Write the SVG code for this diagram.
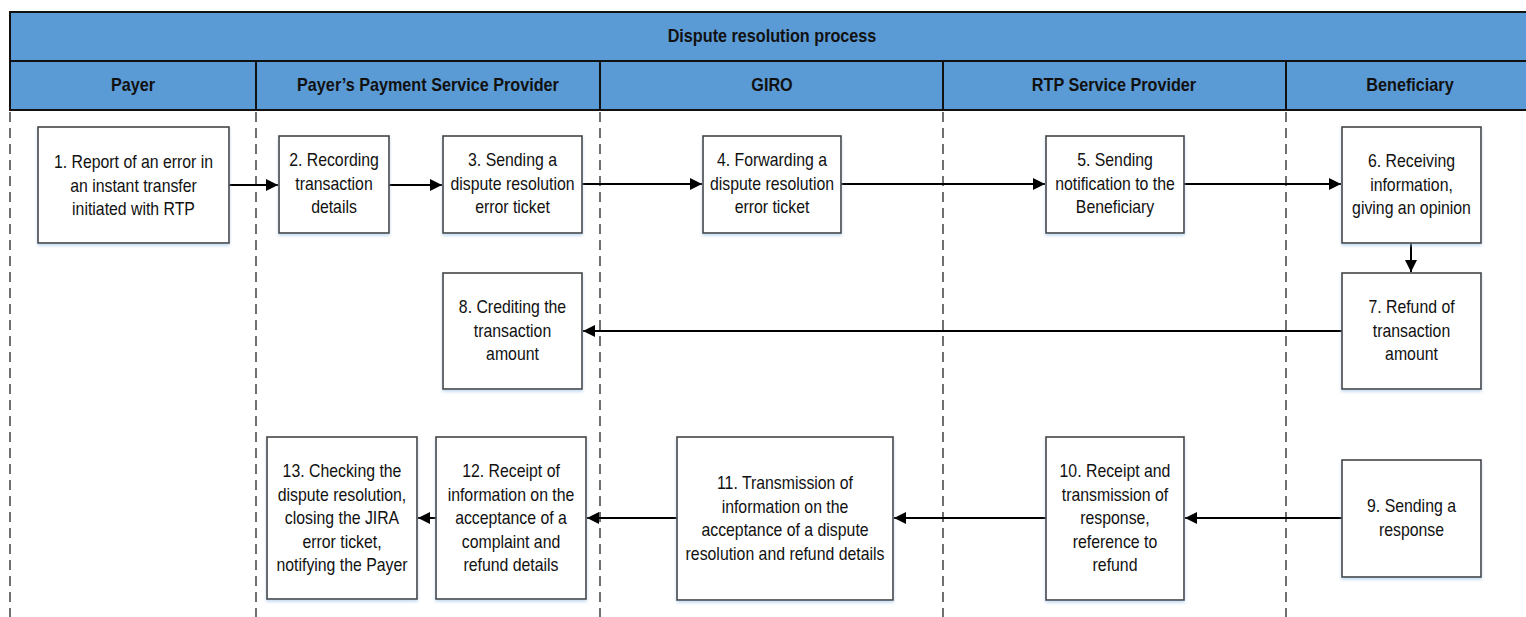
<svg xmlns="http://www.w3.org/2000/svg" width="1526" height="617" viewBox="0 0 1526 617">
<style>
  .hdr { fill: #5b9bd5; stroke: #111; stroke-width: 2; }
  .ht { font-family: "Liberation Sans", Arial, sans-serif; font-size: 18px; font-weight: bold; fill: #111; text-anchor: middle; }
  .lane { stroke: #111; stroke-width: 1.2; stroke-dasharray: 10 6; fill: none; }
  .box { fill: #fff; stroke: #444; stroke-width: 1.6; filter: url(#sh); }
  .bt { font-family: "Liberation Sans", Arial, sans-serif; font-size: 18px; fill: #111; text-anchor: middle; }
  .con { stroke: #000; stroke-width: 2; fill: none; marker-end: url(#ah); }
</style>
<defs>
  <marker id="ah" viewBox="0 0 10 10" refX="10" refY="5" markerWidth="6" markerHeight="6" markerUnits="strokeWidth" orient="auto">
    <path d="M0,0 L10,5 L0,10 z" fill="#000"/>
  </marker>
  <filter id="sh" x="-10%" y="-10%" width="120%" height="125%">
    <feDropShadow dx="0" dy="2" stdDeviation="1.5" flood-color="#9dc3e6" flood-opacity="0.6"/>
  </filter>
</defs>
<rect width="1526" height="617" fill="#fff"/>
<g id="header">
  <rect class="hdr" x="10" y="12" width="1530" height="49"/>
  <text class="ht" transform="translate(772,42) scale(0.9,1)">Dispute resolution process</text>
</g>
<g id="lanes">
  <g id="lane-payer">
    <rect class="hdr" x="10" y="61" width="246" height="49"/>
    <text class="ht" transform="translate(133,91) scale(0.9,1)">Payer</text>
    <line class="lane" x1="10" y1="112" x2="10" y2="617"/>
  </g>
  <g id="lane-psp">
    <rect class="hdr" x="256" y="61" width="344" height="49"/>
    <text class="ht" transform="translate(428,91) scale(0.9,1)">Payer’s Payment Service Provider</text>
    <line class="lane" x1="256" y1="112" x2="256" y2="617"/>
  </g>
  <g id="lane-giro">
    <rect class="hdr" x="600" y="61" width="343" height="49"/>
    <text class="ht" transform="translate(772,91) scale(0.9,1)">GIRO</text>
    <line class="lane" x1="600" y1="112" x2="600" y2="617"/>
  </g>
  <g id="lane-rtp">
    <rect class="hdr" x="943" y="61" width="343" height="49"/>
    <text class="ht" transform="translate(1114,91) scale(0.9,1)">RTP Service Provider</text>
    <line class="lane" x1="943" y1="112" x2="943" y2="617"/>
  </g>
  <g id="lane-ben">
    <rect class="hdr" x="1286" y="61" width="260" height="49"/>
    <text class="ht" transform="translate(1410,91) scale(0.9,1)">Beneficiary</text>
    <line class="lane" x1="1286" y1="112" x2="1286" y2="617"/>
  </g>
</g>
<g id="connectors">
  <path class="con" d="M229,185 H278"/>
  <path class="con" d="M389,185 H442"/>
  <path class="con" d="M582,184 H702"/>
  <path class="con" d="M841,184 H1045"/>
  <path class="con" d="M1184,184 H1341"/>
  <path class="con" d="M1411,243 V272"/>
  <path class="con" d="M1342,331 H583"/>
  <path class="con" d="M1342,518 H1185"/>
  <path class="con" d="M1046,518 H894"/>
  <path class="con" d="M677,518 H587"/>
  <path class="con" d="M436,518 H418"/>
</g>
<g id="n1">
  <rect class="box" x="38" y="127" width="191" height="116"/>
  <text class="bt" transform="translate(133.5,168) scale(0.88,1)">1. Report of an error in</text>
  <text class="bt" transform="translate(133.5,191.5) scale(0.88,1)">an instant transfer</text>
  <text class="bt" transform="translate(133.5,215) scale(0.88,1)">initiated with RTP</text>
</g>
<g id="n2">
  <rect class="box" x="279" y="136" width="110" height="97"/>
  <text class="bt" transform="translate(334,166) scale(0.88,1)">2. Recording</text>
  <text class="bt" transform="translate(334,189.5) scale(0.88,1)">transaction</text>
  <text class="bt" transform="translate(334,213) scale(0.88,1)">details</text>
</g>
<g id="n3">
  <rect class="box" x="443" y="136" width="139" height="97"/>
  <text class="bt" transform="translate(512.5,166) scale(0.88,1)">3. Sending a</text>
  <text class="bt" transform="translate(512.5,189.5) scale(0.88,1)">dispute resolution</text>
  <text class="bt" transform="translate(512.5,213) scale(0.88,1)">error ticket</text>
</g>
<g id="n4">
  <rect class="box" x="703" y="136" width="138" height="97"/>
  <text class="bt" transform="translate(772,166) scale(0.88,1)">4. Forwarding a</text>
  <text class="bt" transform="translate(772,189.5) scale(0.88,1)">dispute resolution</text>
  <text class="bt" transform="translate(772,213) scale(0.88,1)">error ticket</text>
</g>
<g id="n5">
  <rect class="box" x="1046" y="136" width="138" height="97"/>
  <text class="bt" transform="translate(1115,166) scale(0.88,1)">5. Sending</text>
  <text class="bt" transform="translate(1115,189.5) scale(0.88,1)">notification to the</text>
  <text class="bt" transform="translate(1115,213) scale(0.88,1)">Beneficiary</text>
</g>
<g id="n6">
  <rect class="box" x="1342" y="127" width="139" height="116"/>
  <text class="bt" transform="translate(1411.5,167) scale(0.88,1)">6. Receiving</text>
  <text class="bt" transform="translate(1411.5,190.5) scale(0.88,1)">information,</text>
  <text class="bt" transform="translate(1411.5,214) scale(0.88,1)">giving an opinion</text>
</g>
<g id="n7">
  <rect class="box" x="1342" y="273" width="139" height="116"/>
  <text class="bt" transform="translate(1411.5,313) scale(0.88,1)">7. Refund of</text>
  <text class="bt" transform="translate(1411.5,336.5) scale(0.88,1)">transaction</text>
  <text class="bt" transform="translate(1411.5,360) scale(0.88,1)">amount</text>
</g>
<g id="n8">
  <rect class="box" x="443" y="273" width="139" height="116"/>
  <text class="bt" transform="translate(512.5,313) scale(0.88,1)">8. Crediting the</text>
  <text class="bt" transform="translate(512.5,336.5) scale(0.88,1)">transaction</text>
  <text class="bt" transform="translate(512.5,360) scale(0.88,1)">amount</text>
</g>
<g id="n9">
  <rect class="box" x="1342" y="460" width="139" height="117"/>
  <text class="bt" transform="translate(1411.5,512) scale(0.88,1)">9. Sending a</text>
  <text class="bt" transform="translate(1411.5,535.5) scale(0.88,1)">response</text>
</g>
<g id="n10">
  <rect class="box" x="1046" y="437" width="138" height="163"/>
  <text class="bt" transform="translate(1115,477) scale(0.88,1)">10. Receipt and</text>
  <text class="bt" transform="translate(1115,500.5) scale(0.88,1)">transmission of</text>
  <text class="bt" transform="translate(1115,524) scale(0.88,1)">response,</text>
  <text class="bt" transform="translate(1115,547.5) scale(0.88,1)">reference to</text>
  <text class="bt" transform="translate(1115,571) scale(0.88,1)">refund</text>
</g>
<g id="n11">
  <rect class="box" x="677" y="437" width="216" height="163"/>
  <text class="bt" transform="translate(785,489) scale(0.88,1)">11. Transmission of</text>
  <text class="bt" transform="translate(785,512.5) scale(0.88,1)">information on the</text>
  <text class="bt" transform="translate(785,536) scale(0.88,1)">acceptance of a dispute</text>
  <text class="bt" transform="translate(785,559.5) scale(0.88,1)">resolution and refund details</text>
</g>
<g id="n12">
  <rect class="box" x="436" y="437" width="150" height="162"/>
  <text class="bt" transform="translate(511,477) scale(0.88,1)">12. Receipt of</text>
  <text class="bt" transform="translate(511,500.5) scale(0.88,1)">information on the</text>
  <text class="bt" transform="translate(511,524) scale(0.88,1)">acceptance of a</text>
  <text class="bt" transform="translate(511,547.5) scale(0.88,1)">complaint and</text>
  <text class="bt" transform="translate(511,571) scale(0.88,1)">refund details</text>
</g>
<g id="n13">
  <rect class="box" x="267" y="437" width="150" height="162"/>
  <text class="bt" transform="translate(342,477) scale(0.88,1)">13. Checking the</text>
  <text class="bt" transform="translate(342,500.5) scale(0.88,1)">dispute resolution,</text>
  <text class="bt" transform="translate(342,524) scale(0.88,1)">closing the JIRA</text>
  <text class="bt" transform="translate(342,547.5) scale(0.88,1)">error ticket,</text>
  <text class="bt" transform="translate(342,571) scale(0.88,1)">notifying the Payer</text>
</g>
</svg>
